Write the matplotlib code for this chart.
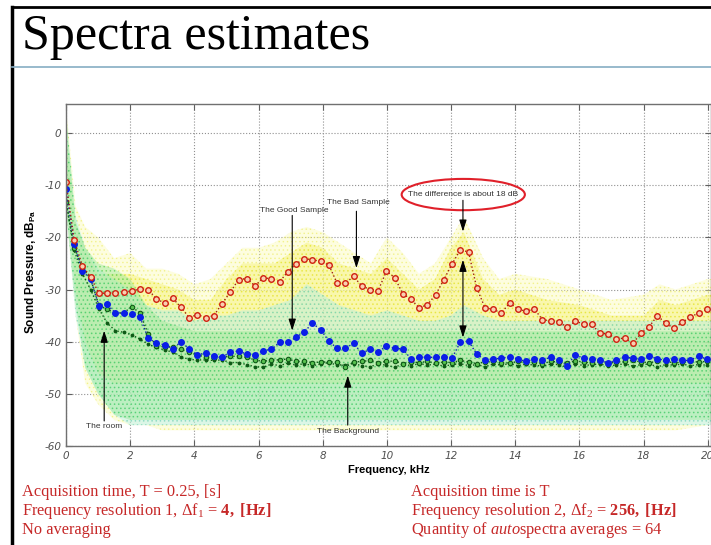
import numpy as np
import matplotlib.pyplot as plt
from matplotlib.lines import Line2D
from matplotlib.patches import Ellipse

plt.rcParams['mathtext.fontset'] = 'custom'
plt.rcParams['mathtext.rm'] = 'Liberation Serif'
plt.rcParams['mathtext.it'] = 'Liberation Serif:italic'
plt.rcParams['mathtext.bf'] = 'Liberation Serif:bold'
plt.rcParams['mathtext.sf'] = 'Liberation Sans:bold'
plt.rcParams['hatch.linewidth'] = 0.6
plt.rcParams['axes.unicode_minus'] = False

#Averaged spectra, 256 Hz bins
df2 = 0.256   #kHz
bad_avg = [-9.4, -20.6, -25.5, -27.6, -30.7, -30.7, -30.6, -30.5, -30.3, -29.9,
           -30.0, -31.8, -32.6, -31.7, -33.4, -35.4, -34.8, -35.4, -35.0, -32.7,
           -30.5, -28.1, -27.9, -29.3, -27.8, -27.9, -28.5, -26.6, -25.1, -24.1,
           -24.3, -24.6, -25.3, -28.8, -28.8, -27.5, -29.3, -30.0, -30.2, -26.5,
           -27.7, -30.8, -31.9, -33.5, -32.9, -31.0, -28.1, -25.1, -22.4, -22.8,
           -29.7, -33.5, -33.8, -34.5, -32.6, -33.7, -34.2, -33.7, -35.8, -36.0,
           -36.2, -37.2, -36.1, -36.6, -36.7, -38.4, -38.5, -39.5, -39.3, -40.3,
           -38.4, -37.1, -35.0, -36.5, -37.4, -36.3, -35.3, -34.5, -33.8]
good_avg = [-10.8, -21.3, -26.5, -28.0, -33.1, -32.8, -34.5, -34.5, -34.7, -35.3,
            -39.3, -40.3, -40.6, -41.4, -40.0, -41.4, -42.5, -42.2, -42.7, -43.0,
            -42.0, -41.8, -42.4, -42.5, -41.7, -41.5, -40.1, -40.1, -39.2, -38.1,
            -36.5, -37.7, -39.9, -41.3, -41.3, -40.3, -42.2, -41.5, -42.0, -40.8,
            -41.3, -41.4, -43.3, -43.0, -43.0, -43.0, -42.9, -43.1, -40.1, -39.9,
            -42.4, -43.5, -43.3, -43.2, -42.9, -43.3, -43.8, -43.3, -43.5, -43.0,
            -43.6, -44.6, -42.5, -43.2, -43.4, -43.6, -44.0, -43.6, -42.9, -43.2,
            -43.4, -42.7, -43.3, -43.6, -43.4, -43.6, -43.6, -42.7, -43.4]
background_avg = [-13.2, -22.0, -25.8, -28.0, -33.0, -33.8, -34.5, -34.5, -33.3, -34.5,
                  -38.5, -40.8, -41.0, -41.0, -41.5, -42.0, -42.5, -43.0, -43.2, -43.0,
                  -42.8, -42.8, -43.0, -43.5, -43.8, -43.5, -43.5, -43.3, -43.8, -43.8,
                  -44.0, -43.9, -43.9, -43.9, -44.9, -43.9, -43.8, -43.6, -44.0, -43.8,
                  -43.7, -44.2, -43.9, -44.0, -43.8, -44.1, -43.9, -44.0, -43.6, -43.9,
                  -44.2, -43.9, -43.7, -44.0, -44.1, -43.8, -44.0, -43.9, -44.2, -43.8,
                  -43.9, -44.0, -43.7, -43.9, -44.1, -43.8, -44.2, -43.9, -43.8, -43.6,
                  -43.9, -44.0, -43.8, -43.7, -44.1, -43.9, -43.8, -43.9, -43.8]
room_avg = [-13.0, -22.5, -27.0, -30.0, -33.7, -36.4, -37.9, -38.2, -38.7, -39.5,
            -40.5, -41.1, -41.6, -42.0, -42.9, -43.4, -43.5, -43.5, -43.6, -43.5,
            -44.0, -44.0, -44.4, -44.8, -44.9, -44.3, -44.6, -44.1, -44.5, -44.2,
            -44.6, -44.3, -44.0, -44.5, -44.4, -44.2, -44.6, -44.8, -44.3, -44.5,
            -44.9, -44.3, -44.6, -44.2, -44.5, -44.3, -44.7, -44.4, -44.2, -44.6,
            -44.4, -44.8, -44.3, -44.5, -44.2, -44.6, -44.3, -44.5, -44.7, -44.3,
            -44.4, -44.9, -44.2, -44.6, -44.4, -44.3, -44.6, -44.5, -44.2, -44.7,
            -44.4, -44.3, -44.8, -44.4, -44.5, -44.3, -44.6, -44.4, -44.5]

#Envelopes of the raw 4 Hz spectra
band_f = [0, 0.3, 0.6, 1, 1.5, 2, 2.5, 3, 3.5, 4, 4.5, 5, 5.5, 6, 6.5, 7, 7.5, 8, 8.5, 9,
          9.5, 10, 10.5, 11, 11.5, 12, 12.4, 13, 13.5, 14, 15, 16, 17, 18, 18.5, 19, 20, 20.5]
bad_hi  = [5, -14, -18, -20, -24, -23, -26, -26, -27, -29, -28, -25, -22, -22, -21, -19, -18, -19, -21, -23,
           -25, -20, -23, -27, -25, -20, -16, -24, -28, -27, -28, -30, -32, -31, -29, -30, -28, -28]
bad_lo  = [-15, -35, -48, -52, -55, -56, -56, -57, -57, -57, -57, -57, -57, -57, -57, -57, -57, -57, -57, -57,
           -57, -57, -57, -57, -57, -57, -57, -57, -57, -57, -57, -57, -57, -57, -57, -57, -56, -56]
bad_core_hi = [0, -17, -22, -27, -27, -27, -28, -29, -30, -32, -32, -28, -25, -25, -25, -23, -21, -22, -25, -26,
               -27, -24, -27, -30, -28, -22, -19, -28, -31, -30, -32, -33, -35, -35, -32, -33, -31, -31]
bad_core_lo = [-12, -30, -40, -46, -48, -48, -48, -48, -48, -48, -48, -48, -48, -48, -48, -48, -48, -48, -48, -48,
               -48, -48, -48, -48, -48, -48, -48, -48, -48, -48, -48, -48, -48, -48, -48, -48, -48, -48]
good_hi = [3, -16, -22, -26, -28, -30, -33, -34, -34, -36, -35, -35, -34, -34, -33, -32, -29, -31, -33, -34,
           -35, -34, -35, -36, -36, -35, -33, -35, -36, -36, -36, -36, -36, -36, -36, -36, -36, -36]
good_lo = [-14, -35, -45, -50, -54, -56, -56, -56, -56, -56, -56, -56, -56, -56, -56, -56, -56, -56, -56, -56,
           -56, -56, -56, -56, -56, -56, -56, -56, -56, -56, -56, -56, -56, -56, -56, -56, -56, -56]
bg_hi = [4, -17, -22, -25, -26, -28, -33, -36, -37, -38, -38, -38, -38, -38, -38, -38, -38, -38, -38, -38,
         -38, -38, -38, -38, -38, -38, -38, -38, -38, -38, -38, -38, -38, -38, -38, -38, -38, -38]
bg_lo = [-15, -33, -45, -50, -54, -55, -55, -55, -55, -55, -55, -55, -55, -55, -55, -55, -55, -55, -55, -55,
         -55, -55, -55, -55, -55, -55, -55, -55, -55, -55, -55, -55, -55, -55, -55, -55, -55, -55]

f_avg = np.arange(len(bad_avg))*df2

fig = plt.figure(figsize=(7.11, 5.45), dpi=100)
fig.patch.set_facecolor('white')
ax = fig.add_axes([66/711, 1-446/545, 645/711, 342/545])

# raw spectra as dotted bands
ax.fill_between(band_f, bad_lo, bad_hi, facecolor='#fbfbb0', edgecolor='#e8e840', hatch='....', lw=0, alpha=0.4)
ax.fill_between(band_f, bad_core_lo, bad_core_hi, facecolor='#f6f37a', edgecolor='#e2e020', hatch='....', lw=0, alpha=0.5)
ax.fill_between(band_f, good_lo, good_hi, facecolor='#a8ecf2', edgecolor='#40c8d8', hatch='....', lw=0, alpha=0.4)
ax.fill_between(band_f, bg_lo, bg_hi, facecolor='#98e894', edgecolor='#30c850', hatch='....', lw=0, alpha=0.45)

# averaged spectra
ax.plot(f_avg, room_avg, ':', color='#0e5a16', lw=1.0, marker='.', ms=3.5, mfc='#0e5a16', mec='#0e5a16')
ax.plot(f_avg, background_avg, ':', color='#0e5a16', lw=1.0, marker='o', ms=3.2, mfc='#58c050', mec='#0e5a16', mew=0.8)
ax.plot(f_avg, good_avg, ':', color='#1020b0', lw=1.0, marker='o', ms=4.0, mfc='#0a1ee8', mec='#0a1ee8')
ax.plot(f_avg, bad_avg, ':', color='#a02010', lw=1.0, marker='o', ms=4.0, mfc='#f8d0b0', mec='#d02010', mew=1.0)

ax.set_xlim(0, 20.1)
ax.set_ylim(-60, 5.56)
ax.set_xticks(np.arange(0, 21, 2))
ax.set_yticks(np.arange(-60, 1, 10))
ax.grid(True, linestyle=':', color='#909090', lw=0.8)
ax.set_axisbelow(True)
ax.tick_params(direction='in', top=True, right=True, length=4, colors='#606060', labelsize=7.5, labelcolor='#505050')
for lbl in ax.get_xticklabels() + ax.get_yticklabels():
    lbl.set_fontstyle('italic')
for sp in ax.spines.values():
    sp.set_color('#707070')
    sp.set_linewidth(1.0)

ax.set_xlabel('Frequency, kHz', fontsize=8, fontweight='bold', family='Liberation Sans', labelpad=3)
ax.set_ylabel(r'Sound Pressure, dB$_{\mathsf{Pa}}$', fontsize=8.5, fontweight='bold', family='Liberation Sans')
ax.yaxis.set_label_coords(-0.043, 0.51)

# annotations
arr = dict(arrowstyle='-|>,head_length=0.7,head_width=0.22', color='black', lw=0.8, shrinkA=0, shrinkB=0)
txt = dict(fontsize=6, family='Liberation Sans', color='#333333')
ax.annotate('', xy=(7.05, -37.9), xytext=(7.05, -15.8), arrowprops=arr)
ax.text(6.04, -14.8, 'The Good Sample', ha='left', va='center', **txt)
ax.annotate('', xy=(9.05, -25.9), xytext=(9.05, -15.0), arrowprops=arr)
ax.text(8.13, -13.4, 'The Bad Sample', ha='left', va='center', **txt)
ax.annotate('', xy=(1.19, -37.9), xytext=(1.19, -55.2), arrowprops=arr)
ax.text(1.19, -56.3, 'The room', ha='center', va='center', **txt)
ax.annotate('', xy=(8.78, -46.5), xytext=(8.78, -56.0), arrowprops=arr)
ax.text(8.78, -57.3, 'The Background', ha='center', va='center', **txt)
ax.add_patch(Ellipse((12.38, -11.8), 3.84, 6.0, fill=False, edgecolor='#e0202a', lw=1.5))
ax.text(12.38, -11.7, 'The difference is about 18 dB', ha='center', va='center', **txt)
ax.annotate('', xy=(12.37, -18.9), xytext=(12.37, -12.9), arrowprops=arr)
ax.annotate('', xy=(12.37, -39.2), xytext=(12.37, -24.3),
            arrowprops=dict(arrowstyle='<|-|>,head_length=0.7,head_width=0.22', color='black', lw=0.8,
                            shrinkA=0, shrinkB=0))

# slide frame and title
fig.add_artist(Line2D([12/711, 12/711], [0, 1-7/545], color='black', lw=2.5))
fig.add_artist(Line2D([12/711, 1], [1-7/545, 1-7/545], color='black', lw=2.0))
fig.add_artist(Line2D([12/711, 1], [1-67/545, 1-67/545], color='#86aec4', lw=1.2))
fig.text(22/711, 1-37/545, 'Spectra estimates', fontsize=36, family='Liberation Serif', va='center', ha='left')

red = '#c62828'
bt = dict(fontsize=11.8, family='Liberation Serif', color=red, ha='left', va='center')
fig.text(22/711, 1-492/545, 'Acquisition time, T = 0.25, [s]', **bt)
fig.text(22/711, 1-511/545, r'Frequency resolution 1, $\Delta$f$_1$ = $\mathbf{4,}$ $\mathbf{[Hz]}$', **bt)
fig.text(22/711, 1-530/545, 'No averaging', **bt)
fig.text(411/711, 1-492/545, 'Acquisition time is T', **bt)
fig.text(411/711, 1-511/545, r'Frequency resolution 2, $\Delta$f$_2$ = $\mathbf{256,}$ $\mathbf{[Hz]}$', **bt)
fig.text(411/711, 1-530/545, r'Quantity of $\mathit{auto}$spectra averages = 64', **bt)

fig.savefig('out.png', dpi=100)
plt.close(fig)
